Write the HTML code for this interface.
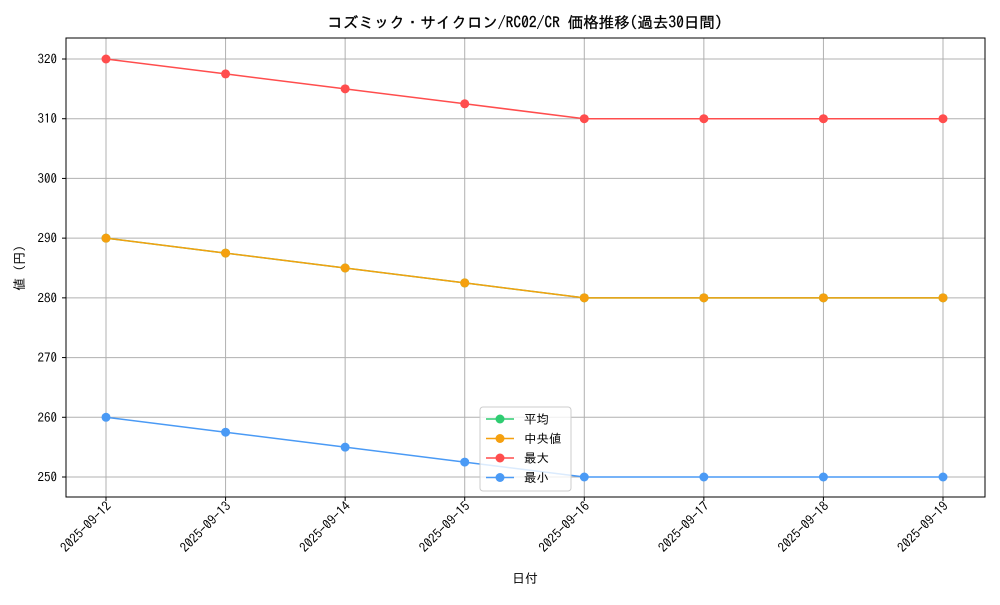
<!DOCTYPE html>
<html><head><meta charset="utf-8">
<style>
body{margin:0;background:#fff;}
svg text{font-family:"IPAGothic","Noto Sans CJK JP",sans-serif;fill:#000;}
</style></head>
<body>
<svg id="chart" width="1000" height="600" xmlns="http://www.w3.org/2000/svg">
<rect x="0" y="0" width="1000" height="600" fill="#fff"/>
<text x="525" y="28" font-size="15.5" text-anchor="middle" stroke="#000" stroke-width="0.3">コズミック・サイクロン/RC02/CR 価格推移(過去30日間)</text>
<g id="grid"></g>
<g id="series"></g>
<rect x="66" y="38" width="919" height="459" fill="none" stroke="#000" stroke-width="1"/>
<g id="axes"></g>
<text x="525" y="583" font-size="13" text-anchor="middle">日付</text>
<text transform="translate(24,268) rotate(-90)" font-size="13" text-anchor="middle">値 (円)</text>
<g id="legend"></g>
</svg>
<script>
const categories=["2025-09-12","2025-09-13","2025-09-14","2025-09-15","2025-09-16","2025-09-17","2025-09-18","2025-09-19"];
const avgValues=[290,287.5,285,282.5,280,280,280,280];
const medianValues=[290,287.5,285,282.5,280,280,280,280];
const maxValues=[320,317.5,315,312.5,310,310,310,310];
const minValues=[260,257.5,255,252.5,250,250,250,250];
const yTicks=[250,260,270,280,290,300,310,320];
const seriesNames=["平均","中央値","最大","最小"];
const seriesColors=["#2ecc71","#f5a00f","#ff4d4d","#4a9af5"];
const NS="http://www.w3.org/2000/svg";
function xS(i){return 106+i*(943-106)/(categories.length-1);}
function yS(v){return 477-(v-250)*(477-59)/70;}
function mk(tag,attrs,parent){const e=document.createElementNS(NS,tag);for(const k in attrs)e.setAttribute(k,attrs[k]);parent.appendChild(e);return e;}
const grid=document.getElementById('grid'),axes=document.getElementById('axes'),ser=document.getElementById('series'),leg=document.getElementById('legend');
categories.forEach((c,i)=>{
 const x=xS(i);
 const g=mk('line',{x1:x,x2:x,y1:38,y2:497,stroke:'#b0b0b0','stroke-width':1},grid);
 
 
 const t=mk('line',{x1:x,x2:x,y1:497,y2:501,stroke:'#000'},axes);
 
 
 const l=mk('text',{'font-size':13,'text-anchor':'end',transform:`translate(${x+6},${507}) rotate(-45)`},axes);
 l.textContent=c;
 
 
});
yTicks.forEach(v=>{
 const y=yS(v);
 const g=mk('line',{x1:66,x2:985,y1:y,y2:y,stroke:'#b0b0b0','stroke-width':1},grid);
 
 
 const t=mk('line',{x1:62,x2:66,y1:y,y2:y,stroke:'#000'},axes);
 
 
 const l=mk('text',{x:57,y:y+4.5,'font-size':13,'text-anchor':'end'},axes);
 l.textContent=v;
 
 
});
const all=[avgValues,medianValues,maxValues,minValues];
all.forEach((vals,s)=>{
 const pts=vals.map((v,i)=>xS(i)+','+yS(v)).join(' ');
 const pl=mk('polyline',{points:pts,fill:'none',stroke:seriesColors[s],'stroke-width':1.5},ser);
 
 
 vals.forEach((v,i)=>{
  const c=mk('circle',{cx:xS(i),cy:yS(v),r:4.5,fill:seriesColors[s]},ser);
  
  
 });
});
const box=mk('rect',{x:480,y:407,width:91,height:84,rx:3,fill:'#fff','fill-opacity':0.8,stroke:'#ccc'},leg);


seriesNames.forEach((n,s)=>{
 const y=419+s*19.5;
 const l=mk('line',{x1:486,x2:514,y1:y,y2:y,stroke:seriesColors[s],'stroke-width':1.5},leg);
 
 
 const c=mk('circle',{cx:500,cy:y,r:4.5,fill:seriesColors[s]},leg);
 
 
 const t=mk('text',{x:524,y:y+4.5,'font-size':12.5},leg);
 t.textContent=n;
 
 
});
</script>
</body></html>
